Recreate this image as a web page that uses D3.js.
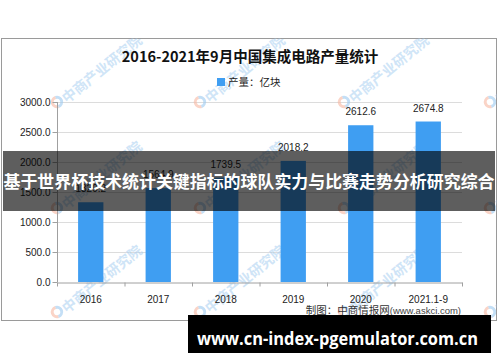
<!DOCTYPE html>
<html>
<head>
<meta charset="utf-8">
<script src="https://cdn.jsdelivr.net/npm/d3@7/dist/d3.min.js"></script>
<style>
  html, body { margin: 0; padding: 0; background: #fff; }
  svg { display: block; }
</style>
</head>
<body>
<svg id="chart" width="500" height="362"></svg>
<script>
// ---- data ----
const categories = ["2016", "2017", "2018", "2019", "2020", "2021.1-9"];
const production = [1329.2, 1564.9, 1739.5, 2018.2, 2612.6, 2674.8];
const yTicks = [0, 500, 1000, 1500, 2000, 2500, 3000];
const titleText = "2016-2021年9月中国集成电路产量统计";
const legendText = "产量：亿块";
const sourceMain = "制图：中商情报网";
const sourceUrl = "(www.askci.com)";
const watermarkText = "中商产业研究院";
const bannerText = "基于世界杯技术统计关键指标的球队实力与比赛走势分析研究综合";
const footerText = "www.cn-index-pgemulator.com.cn";

// ---- setup ----
const svg = d3.select("#chart");
const barColor = "#3f9ef2";
const numFont = "'Liberation Sans', Arial, sans-serif";
const cjkFont = "'Noto Sans CJK SC', 'Noto Sans', sans-serif";

const box = {x: 1.5, y: 38.5, w: 495, h: 282};

svg.append("defs").append("clipPath").attr("id", "boxclip")
  .append("rect").attr("x", box.x).attr("y", box.y).attr("width", box.w).attr("height", box.h);

svg.append("rect")
  .attr("x", box.x).attr("y", box.y).attr("width", box.w).attr("height", box.h)
  .attr("fill", "#fff").attr("stroke", "#9a9a9a").attr("stroke-width", 1);

const x = d3.scaleBand().domain(categories).range([57, 462]).padding(0);
const y = d3.scaleLinear().domain([0, 3000]).range([282, 102]);
const barW = x.bandwidth() * 0.375;

// gridlines
svg.append("g").selectAll("line").data(yTicks.filter(d => d > 0)).join("line")
  .attr("x1", 57).attr("x2", 462)
  .attr("y1", d => y(d) + 0.5).attr("y2", d => y(d) + 0.5)
  .attr("stroke", "#dcdcdc").attr("stroke-width", 1);

// watermarks (decorative)
const wm = svg.append("g").attr("clip-path", "url(#boxclip)");
const wmCols = [-87, 57, 200, 344, 490];
const wmRows = [102, 208, 312];
const arcOuter = d3.arc().innerRadius(3.2).outerRadius(6.2);
wmRows.forEach(ry => {
  wmCols.forEach(cx => {
    const g = wm.append("g").attr("transform", `translate(${cx},${ry})`);
    g.append("path").attr("d", arcOuter({startAngle: Math.PI * 0.9, endAngle: Math.PI * 1.9}))
      .attr("fill", "#f7b8a2").attr("opacity", 0.6);
    g.append("path").attr("d", arcOuter({startAngle: -Math.PI * 0.1, endAngle: Math.PI * 0.9}))
      .attr("fill", "#9cc9f0").attr("opacity", 0.6);
    g.append("text")
      .attr("transform", "translate(7,-2) rotate(-39)")
      .attr("dy", "0.35em")
      .attr("font-family", cjkFont).attr("font-weight", "bold").attr("font-size", 14)
      .attr("fill", "#a9cff1").attr("opacity", 0.55)
      .text(watermarkText);
  });
});

// bars
svg.append("g").selectAll("rect").data(production).join("rect")
  .attr("x", (d, i) => x(categories[i]) + (x.bandwidth() - barW) / 2)
  .attr("width", barW)
  .attr("y", d => y(d))
  .attr("height", d => y(0) - y(d))
  .attr("fill", barColor);

// value labels
svg.append("g").selectAll("text").data(production).join("text")
  .attr("x", (d, i) => x(categories[i]) + x.bandwidth() / 2)
  .attr("y", d => y(d) - 10)
  .attr("text-anchor", "middle")
  .attr("font-family", numFont).attr("font-size", 10).attr("fill", "#222")
  .text(d => d3.format(".1f")(d));

// y axis
const yAxis = d3.axisLeft(y).tickValues(yTicks).tickFormat(d3.format(".1f")).tickSize(5).tickPadding(2);
const gy = svg.append("g").attr("transform", "translate(57.5,0)").call(yAxis);
gy.select(".domain").attr("stroke", "#a0a0a0").attr("d", "M0,102V282");
gy.selectAll(".tick line").attr("stroke", "#a0a0a0");
gy.selectAll(".tick text").attr("font-family", numFont).attr("font-size", 10).attr("fill", "#222");

// x axis
const xAxis = d3.axisBottom(x).tickSize(0).tickPadding(13);
const gx = svg.append("g").attr("transform", "translate(0,282.5)").call(xAxis);
gx.select(".domain").attr("stroke", "#a0a0a0");
gx.selectAll(".tick text").attr("font-family", numFont).attr("font-size", 10).attr("fill", "#222");
// category boundary ticks
const bounds = categories.map(c => x(c)).concat([x.range()[1]]);
gx.append("g").selectAll("line").data(bounds).join("line")
  .attr("x1", d => d + 0.5).attr("x2", d => d + 0.5)
  .attr("y1", 0).attr("y2", 4)
  .attr("stroke", "#a0a0a0");

// title
svg.append("text")
  .attr("x", 250).attr("y", 62).attr("text-anchor", "middle")
  .attr("font-family", cjkFont).attr("font-weight", "bold").attr("font-size", 14.5)
  .attr("fill", "#111").text(titleText);

// legend
svg.append("rect").attr("x", 217).attr("y", 78).attr("width", 8).attr("height", 8).attr("fill", barColor);
svg.append("text").attr("x", 228).attr("y", 86)
  .attr("font-family", cjkFont).attr("font-size", 10.5).attr("fill", "#222").text(legendText);

// source
const src = svg.append("text").attr("x", 461).attr("y", 314).attr("text-anchor", "end")
  .attr("fill", "#333");
src.append("tspan").attr("font-family", cjkFont).attr("font-size", 10.5).text(sourceMain);
src.append("tspan").attr("font-family", numFont).attr("font-size", 9.5).attr("fill", "#444").text(sourceUrl);

// overlay banner
svg.append("rect").attr("x", 3).attr("y", 151).attr("width", 492).attr("height", 60)
  .attr("fill", "rgba(0,0,0,0.63)");
svg.append("text").attr("x", 249).attr("y", 188).attr("text-anchor", "middle")
  .attr("font-family", cjkFont).attr("font-weight", "bold").attr("font-size", 17)
  .attr("fill", "#fff").attr("textLength", 491).attr("lengthAdjust", "spacingAndGlyphs")
  .text(bannerText);

// footer banner
svg.append("rect").attr("x", 188).attr("y", 315).attr("width", 303).attr("height", 38).attr("fill", "#000");
svg.append("text").attr("x", 337.5).attr("y", 345).attr("text-anchor", "middle")
  .attr("font-family", "'Open Sans', 'DejaVu Sans', sans-serif").attr("font-weight", "bold").attr("font-size", 18)
  .attr("fill", "#fff").attr("textLength", 281).attr("lengthAdjust", "spacingAndGlyphs")
  .text(footerText);
</script>
</body>
</html>
